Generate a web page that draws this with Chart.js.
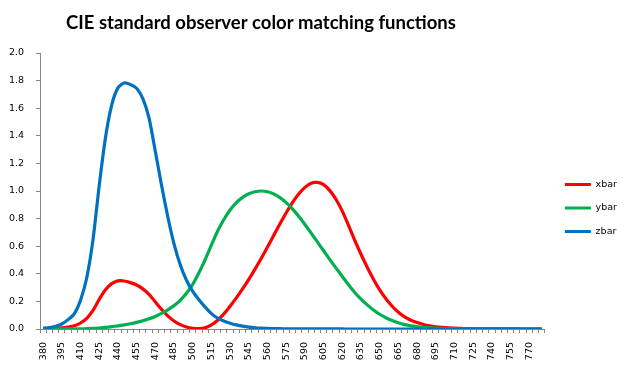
<!DOCTYPE html>
<html>
<head>
<meta charset="utf-8">
<script src="https://cdn.jsdelivr.net/npm/chart.js@4.4.1/dist/chart.umd.min.js"></script>
<style>
  html, body { margin: 0; padding: 0; background: #fff; }
  #wrap { width: 627px; height: 373px; }
</style>
</head>
<body>
<div id="wrap"><canvas id="myChart"></canvas></div>
<script>
// wavelengths (nm)
const wavelengths = [380,385,390,395,400,405,410,415,420,425,430,435,440,445,450,455,460,465,470,475,
  480,485,490,495,500,505,510,515,520,525,530,535,540,545,550,555,560,565,570,575,
  580,585,590,595,600,605,610,615,620,625,630,635,640,645,650,655,660,665,670,675,
  680,685,690,695,700,705,710,715,720,725,730,735,740,745,750,755,760,765,770,775,780];

const xbar = [0.0014,0.0022,0.0042,0.0077,0.0143,0.0232,0.0435,0.0776,0.1344,0.2148,
  0.2839,0.3285,0.3483,0.3481,0.3362,0.3187,0.2908,0.2511,0.1954,0.1421,
  0.0956,0.0580,0.0320,0.0147,0.0049,0.0024,0.0093,0.0291,0.0633,0.1096,
  0.1655,0.2257,0.2904,0.3597,0.4334,0.5121,0.5945,0.6784,0.7621,0.8425,
  0.9163,0.9786,1.0263,1.0567,1.0622,1.0456,1.0026,0.9384,0.8544,0.7514,
  0.6424,0.5419,0.4479,0.3608,0.2835,0.2187,0.1649,0.1212,0.0874,0.0636,
  0.0468,0.0329,0.0227,0.0158,0.0114,0.0081,0.0058,0.0041,0.0029,0.0020,
  0.0014,0.0010,0.0007,0.0005,0.0003,0.0002,0.0002,0.0001,0.0001,0.0001,0.0000];

const ybar = [0.0000,0.0001,0.0001,0.0002,0.0004,0.0006,0.0012,0.0022,0.0040,0.0073,
  0.0116,0.0168,0.0230,0.0298,0.0380,0.0480,0.0600,0.0739,0.0910,0.1126,
  0.1390,0.1693,0.2080,0.2586,0.3230,0.4073,0.5030,0.6082,0.7100,0.7932,
  0.8620,0.9149,0.9540,0.9803,0.9950,1.0000,0.9950,0.9786,0.9520,0.9154,
  0.8700,0.8163,0.7570,0.6949,0.6310,0.5668,0.5030,0.4412,0.3810,0.3210,
  0.2650,0.2170,0.1750,0.1382,0.1070,0.0816,0.0610,0.0446,0.0320,0.0232,
  0.0170,0.0119,0.0082,0.0057,0.0041,0.0029,0.0021,0.0015,0.0010,0.0007,
  0.0005,0.0004,0.0002,0.0002,0.0001,0.0001,0.0001,0.0000,0.0000,0.0000,0.0000];

const zbar = [0.0065,0.0105,0.0201,0.0362,0.0679,0.1102,0.2074,0.3713,0.6456,1.0391,
  1.3856,1.6230,1.7471,1.7826,1.7721,1.7441,1.6692,1.5281,1.2876,1.0419,
  0.8130,0.6162,0.4652,0.3533,0.2720,0.2123,0.1582,0.1117,0.0783,0.0573,
  0.0422,0.0298,0.0203,0.0134,0.0088,0.0058,0.0039,0.0028,0.0021,0.0018,
  0.0017,0.0014,0.0011,0.0010,0.0008,0.0006,0.0003,0.0002,0.0002,0.0001,
  0.0001,0.0000,0.0000,0.0000,0.0000,0.0000,0.0000,0.0000,0.0000,0.0000,
  0.0000,0.0000,0.0000,0.0000,0.0000,0.0000,0.0000,0.0000,0.0000,0.0000,
  0.0000,0.0000,0.0000,0.0000,0.0000,0.0000,0.0000,0.0000,0.0000,0.0000,0.0000];

const seriesNames = ['xbar', 'ybar', 'zbar'];
const yTicks = [0, 0.2, 0.4, 0.6, 0.8, 1.0, 1.2, 1.4, 1.6, 1.8, 2.0];
const titleText = 'CIE standard observer color matching functions';

const axisColor = '#868686';
const tickFont = { family: 'DejaVu Sans', size: 9.5 };

// title drawn left of centre like the original
const titlePlugin = {
  id: 'sheetTitle',
  afterDraw(chart) {
    const ctx = chart.ctx;
    ctx.save();
    ctx.font = 'bold 18.5px Lato';
    ctx.fillStyle = '#000';
    ctx.textAlign = 'center';
    ctx.textBaseline = 'middle';
    ctx.fillText(titleText, 261, 23);
    ctx.restore();
  }
};

const mkSet = (label, values, color, order) => ({
  label,
  data: values,
  borderColor: color,
  backgroundColor: color,
  borderWidth: 3.2,
  pointRadius: 0,
  tension: 0.2,
  order
});

const data = {
  labels: wavelengths,
  datasets: [
    mkSet(seriesNames[0], xbar, 'rgb(255,0,0)', 3),
    mkSet(seriesNames[1], ybar, 'rgb(0,176,80)', 2),
    mkSet(seriesNames[2], zbar, 'rgb(0,112,192)', 1)
  ]
};

const config = {
  type: 'line',
  data,
  plugins: [titlePlugin],
  options: {
    responsive: true,
    maintainAspectRatio: false,
    animation: false,
    layout: { padding: { top: 53, left: 0, right: 0, bottom: 10 } },
    plugins: {
      title: { display: false },
      tooltip: { enabled: false },
      legend: {
        position: 'right',
        labels: {
          usePointStyle: true,
          pointStyle: 'line',
          pointStyleWidth: 26,
          padding: 14,
          color: '#000',
          font: tickFont,
          sort: (a, b) => a.datasetIndex - b.datasetIndex
        }
      }
    },
    scales: {
      x: {
        offset: true,
        grid: { offset: true, drawOnChartArea: false, tickLength: 4, color: axisColor },
        border: { color: axisColor },
        afterFit: s => { s.height = 34; },
        ticks: {
          autoSkip: false,
          minRotation: 90,
          maxRotation: 90,
          padding: 9,
          color: '#000',
          font: tickFont,
          callback: function (v, i) { return i % 3 === 0 ? this.getLabelForValue(v) : ''; }
        }
      },
      y: {
        min: 0,
        max: 2,
        afterFit: s => { s.width = 40; },
        afterBuildTicks: s => { s.ticks = yTicks.map(v => ({ value: v })); },
        grid: { drawOnChartArea: false, tickLength: 4, color: axisColor },
        border: { color: axisColor },
        ticks: {
          padding: 12,
          color: '#000',
          font: tickFont,
          callback: v => v.toFixed(1)
        }
      },
      gap: {
        position: 'right',
        display: true,
        grid: { display: false },
        border: { display: false },
        ticks: { display: false },
        afterFit: s => { s.width = 6; }
      }
    }
  }
};

const myChart = new Chart(document.getElementById('myChart'), config);
</script>
</body>
</html>
